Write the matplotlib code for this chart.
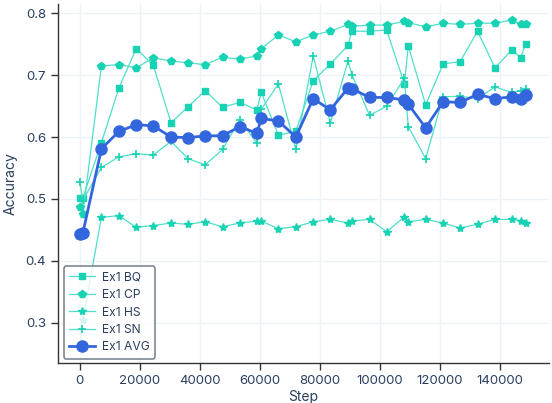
import matplotlib
matplotlib.use("Agg")
import matplotlib.pyplot as plt

steps = [0, 1000, 7200, 13000, 18800, 24500, 30400, 36100, 41800, 47600, 53300,
         59000, 60500, 66200, 72000, 77800, 83500, 89400, 90700, 96600, 102300,
         108200, 109500, 115300, 121100, 126800, 132600, 138400, 144100, 147000, 148600]

bq = [0.502, 0.502, 0.591, 0.679, 0.743, 0.716, 0.623, 0.649, 0.675, 0.648, 0.656,
      0.644, 0.672, 0.603, 0.609, 0.691, 0.718, 0.748, 0.771, 0.771, 0.773,
      0.686, 0.747, 0.652, 0.718, 0.722, 0.771, 0.712, 0.741, 0.728, 0.751]
cp = [0.487, 0.476, 0.715, 0.717, 0.712, 0.728, 0.723, 0.720, 0.717, 0.729, 0.726,
      0.731, 0.743, 0.765, 0.754, 0.765, 0.771, 0.782, 0.779, 0.781, 0.781,
      0.787, 0.785, 0.778, 0.784, 0.782, 0.784, 0.784, 0.789, 0.782, 0.782]
hs = [0.26, 0.305, 0.470, 0.473, 0.454, 0.457, 0.461, 0.459, 0.463, 0.455, 0.461,
      0.464, 0.464, 0.452, 0.455, 0.463, 0.467, 0.461, 0.464, 0.467, 0.447,
      0.471, 0.463, 0.467, 0.461, 0.453, 0.459, 0.467, 0.467, 0.465, 0.461]
sn = [0.527, 0.498, 0.551, 0.568, 0.573, 0.571, 0.593, 0.565, 0.555, 0.580, 0.628,
      0.590, 0.645, 0.686, 0.580, 0.731, 0.623, 0.723, 0.701, 0.635, 0.650,
      0.695, 0.617, 0.565, 0.665, 0.666, 0.662, 0.681, 0.672, 0.675, 0.678]
avg = [0.444, 0.445, 0.581, 0.609, 0.620, 0.618, 0.600, 0.599, 0.602, 0.602, 0.617,
       0.606, 0.630, 0.626, 0.600, 0.662, 0.644, 0.679, 0.678, 0.664, 0.664,
       0.660, 0.653, 0.615, 0.657, 0.656, 0.669, 0.662, 0.665, 0.662, 0.668]

plt.rcParams['font.family'] = ['Inter', 'DejaVu Sans']
dark = "#2a3f5f"
teal_line = "#4fdfca"
teal = "#17d2b3"
blue = "#3366dd"

fig = plt.figure(figsize=(5.52, 4.03), dpi=100)
ax = fig.add_axes([0.105, 0.099, 0.89, 0.891])

ax.plot(steps, bq, color=teal_line, lw=0.9, marker="s", ms=4.5, mfc=teal, mec=teal, label="Ex1 BQ")
ax.plot(steps, cp, color=teal_line, lw=0.9, marker="p", ms=5.5, mfc=teal, mec=teal, label="Ex1 CP")
ax.plot(steps, hs, color=teal_line, lw=0.9, marker="*", ms=6, mfc=teal, mec=teal, label="Ex1 HS")
ax.plot(steps, sn, color=teal_line, lw=0.9, marker="+", ms=6, mew=1.2, mfc=teal, mec=teal, label="Ex1 SN")
ax.plot(steps, avg, color=blue, lw=2, marker="o", ms=8, label="Ex1 AVG")

ax.set_xlim(-7300, 156500)
ax.set_ylim(0.2346, 0.815)
ax.set_yticks([0.3, 0.4, 0.5, 0.6, 0.7, 0.8])
ax.set_xticks([0, 20000, 40000, 60000, 80000, 100000, 120000, 140000])
ax.grid(True, color="#edf2f6", lw=1)
ax.set_axisbelow(True)

for s in ["top", "right"]:
    ax.spines[s].set_visible(False)
for s in ["left", "bottom"]:
    ax.spines[s].set_color("#333333")
    ax.spines[s].set_linewidth(1)
ax.tick_params(colors=dark, labelsize=9.5, length=5, width=1)
ax.tick_params(axis="both", color="#333333")

ax.set_xlabel("Step", color=dark, fontsize=10, labelpad=2)
ax.set_ylabel("Accuracy", color=dark, fontsize=10, labelpad=6)

leg = ax.legend(loc="lower left", bbox_to_anchor=(0.0, -0.005), fontsize=8.7,
                frameon=True, handlelength=2.1, labelspacing=0.45, borderpad=0.45,
                handletextpad=0.6, labelcolor=dark, fancybox=True)
leg.get_frame().set_edgecolor("#5a6b7b")
leg.get_frame().set_linewidth(1.2)
leg.get_frame().set_alpha(0.8)

fig.savefig("out.png", dpi=100)
